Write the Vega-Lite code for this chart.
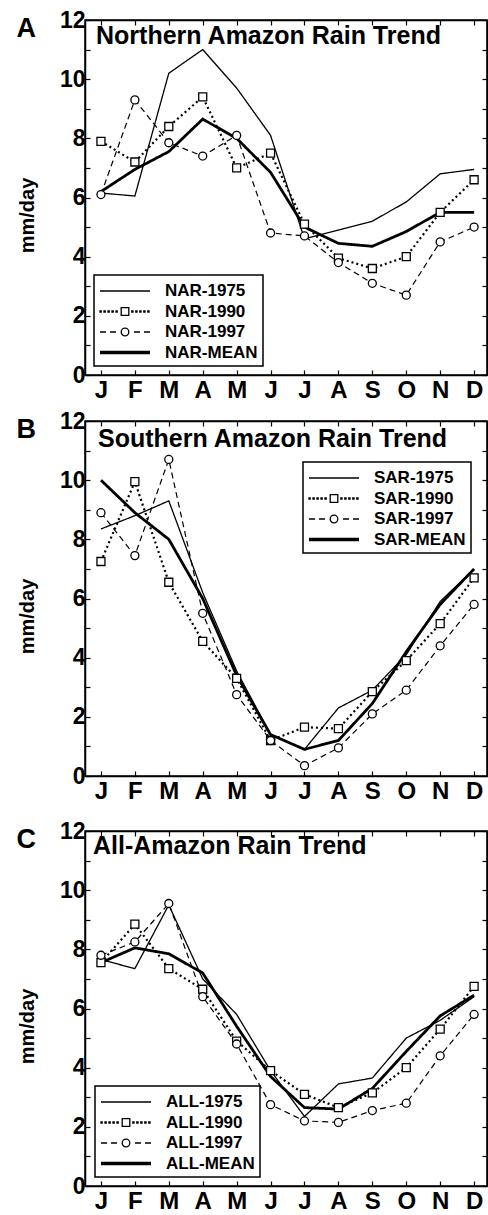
{
"$schema": "https://vega.github.io/schema/vega-lite/v6.json",
"padding": {"left": 15, "top": 8, "right": 0, "bottom": 0},
"background": "white",
"config": {
 "font": "Liberation Sans",
 "view": {"stroke": "black", "strokeWidth": 1.5},
 "axis": {"domainColor": "black", "domainWidth": 1.5, "tickColor": "black", "tickWidth": 1.2, "tickSize": -5, "labelFont": "Liberation Sans", "labelFontWeight": "bold", "labelFontSize": 23, "labelColor": "black", "titleFont": "Liberation Sans", "titleFontWeight": "bold", "titleColor": "black", "grid": false},
 "legend": {"labelFont": "Liberation Sans", "labelFontWeight": "bold", "labelFontSize": 17, "labelColor": "black", "strokeColor": "black", "strokeWidth": 1.5, "fillColor": "white", "padding": 5, "symbolSize": 400, "symbolStrokeWidth": 1.3, "symbolOpacity": 1, "rowPadding": 1.5, "labelOffset": 44, "cornerRadius": 0},
 "title": {"font": "Liberation Sans", "fontWeight": "bold", "color": "black"}
},
"datasets": {"rain": [
{"region":"NAR","series":"NAR-1975","month":1,"value":6.15},{"region":"NAR","series":"NAR-1975","month":2,"value":6.05},{"region":"NAR","series":"NAR-1975","month":3,"value":10.2},{"region":"NAR","series":"NAR-1975","month":4,"value":11.0},{"region":"NAR","series":"NAR-1975","month":5,"value":9.7},{"region":"NAR","series":"NAR-1975","month":6,"value":8.1},{"region":"NAR","series":"NAR-1975","month":7,"value":4.6},{"region":"NAR","series":"NAR-1975","month":8,"value":4.9},{"region":"NAR","series":"NAR-1975","month":9,"value":5.2},{"region":"NAR","series":"NAR-1975","month":10,"value":5.85},{"region":"NAR","series":"NAR-1975","month":11,"value":6.8},{"region":"NAR","series":"NAR-1975","month":12,"value":6.95},
{"region":"NAR","series":"NAR-1990","month":1,"value":7.9},{"region":"NAR","series":"NAR-1990","month":2,"value":7.2},{"region":"NAR","series":"NAR-1990","month":3,"value":8.4},{"region":"NAR","series":"NAR-1990","month":4,"value":9.4},{"region":"NAR","series":"NAR-1990","month":5,"value":7.0},{"region":"NAR","series":"NAR-1990","month":6,"value":7.5},{"region":"NAR","series":"NAR-1990","month":7,"value":5.1},{"region":"NAR","series":"NAR-1990","month":8,"value":3.95},{"region":"NAR","series":"NAR-1990","month":9,"value":3.6},{"region":"NAR","series":"NAR-1990","month":10,"value":4.0},{"region":"NAR","series":"NAR-1990","month":11,"value":5.5},{"region":"NAR","series":"NAR-1990","month":12,"value":6.6},
{"region":"NAR","series":"NAR-1997","month":1,"value":6.1},{"region":"NAR","series":"NAR-1997","month":2,"value":9.3},{"region":"NAR","series":"NAR-1997","month":3,"value":7.85},{"region":"NAR","series":"NAR-1997","month":4,"value":7.4},{"region":"NAR","series":"NAR-1997","month":5,"value":8.1},{"region":"NAR","series":"NAR-1997","month":6,"value":4.8},{"region":"NAR","series":"NAR-1997","month":7,"value":4.7},{"region":"NAR","series":"NAR-1997","month":8,"value":3.8},{"region":"NAR","series":"NAR-1997","month":9,"value":3.1},{"region":"NAR","series":"NAR-1997","month":10,"value":2.7},{"region":"NAR","series":"NAR-1997","month":11,"value":4.5},{"region":"NAR","series":"NAR-1997","month":12,"value":5.0},
{"region":"NAR","series":"NAR-MEAN","month":1,"value":6.2},{"region":"NAR","series":"NAR-MEAN","month":2,"value":6.95},{"region":"NAR","series":"NAR-MEAN","month":3,"value":7.55},{"region":"NAR","series":"NAR-MEAN","month":4,"value":8.65},{"region":"NAR","series":"NAR-MEAN","month":5,"value":8.0},{"region":"NAR","series":"NAR-MEAN","month":6,"value":6.85},{"region":"NAR","series":"NAR-MEAN","month":7,"value":5.0},{"region":"NAR","series":"NAR-MEAN","month":8,"value":4.45},{"region":"NAR","series":"NAR-MEAN","month":9,"value":4.35},{"region":"NAR","series":"NAR-MEAN","month":10,"value":4.85},{"region":"NAR","series":"NAR-MEAN","month":11,"value":5.5},{"region":"NAR","series":"NAR-MEAN","month":12,"value":5.5},
{"region":"SAR","series":"SAR-1975","month":1,"value":8.35},{"region":"SAR","series":"SAR-1975","month":2,"value":8.8},{"region":"SAR","series":"SAR-1975","month":3,"value":9.3},{"region":"SAR","series":"SAR-1975","month":4,"value":6.2},{"region":"SAR","series":"SAR-1975","month":5,"value":3.55},{"region":"SAR","series":"SAR-1975","month":6,"value":1.4},{"region":"SAR","series":"SAR-1975","month":7,"value":0.9},{"region":"SAR","series":"SAR-1975","month":8,"value":2.3},{"region":"SAR","series":"SAR-1975","month":9,"value":2.9},{"region":"SAR","series":"SAR-1975","month":10,"value":4.1},{"region":"SAR","series":"SAR-1975","month":11,"value":5.9},{"region":"SAR","series":"SAR-1975","month":12,"value":7.0},
{"region":"SAR","series":"SAR-1990","month":1,"value":7.25},{"region":"SAR","series":"SAR-1990","month":2,"value":9.95},{"region":"SAR","series":"SAR-1990","month":3,"value":6.55},{"region":"SAR","series":"SAR-1990","month":4,"value":4.55},{"region":"SAR","series":"SAR-1990","month":5,"value":3.3},{"region":"SAR","series":"SAR-1990","month":6,"value":1.2},{"region":"SAR","series":"SAR-1990","month":7,"value":1.65},{"region":"SAR","series":"SAR-1990","month":8,"value":1.6},{"region":"SAR","series":"SAR-1990","month":9,"value":2.85},{"region":"SAR","series":"SAR-1990","month":10,"value":3.9},{"region":"SAR","series":"SAR-1990","month":11,"value":5.15},{"region":"SAR","series":"SAR-1990","month":12,"value":6.7},
{"region":"SAR","series":"SAR-1997","month":1,"value":8.9},{"region":"SAR","series":"SAR-1997","month":2,"value":7.45},{"region":"SAR","series":"SAR-1997","month":3,"value":10.7},{"region":"SAR","series":"SAR-1997","month":4,"value":5.5},{"region":"SAR","series":"SAR-1997","month":5,"value":2.75},{"region":"SAR","series":"SAR-1997","month":6,"value":1.2},{"region":"SAR","series":"SAR-1997","month":7,"value":0.35},{"region":"SAR","series":"SAR-1997","month":8,"value":0.95},{"region":"SAR","series":"SAR-1997","month":9,"value":2.1},{"region":"SAR","series":"SAR-1997","month":10,"value":2.9},{"region":"SAR","series":"SAR-1997","month":11,"value":4.4},{"region":"SAR","series":"SAR-1997","month":12,"value":5.8},
{"region":"SAR","series":"SAR-MEAN","month":1,"value":10.0},{"region":"SAR","series":"SAR-MEAN","month":2,"value":8.9},{"region":"SAR","series":"SAR-MEAN","month":3,"value":8.0},{"region":"SAR","series":"SAR-MEAN","month":4,"value":6.0},{"region":"SAR","series":"SAR-MEAN","month":5,"value":3.4},{"region":"SAR","series":"SAR-MEAN","month":6,"value":1.4},{"region":"SAR","series":"SAR-MEAN","month":7,"value":0.9},{"region":"SAR","series":"SAR-MEAN","month":8,"value":1.2},{"region":"SAR","series":"SAR-MEAN","month":9,"value":2.45},{"region":"SAR","series":"SAR-MEAN","month":10,"value":4.2},{"region":"SAR","series":"SAR-MEAN","month":11,"value":5.8},{"region":"SAR","series":"SAR-MEAN","month":12,"value":7.0},
{"region":"ALL","series":"ALL-1975","month":1,"value":7.65},{"region":"ALL","series":"ALL-1975","month":2,"value":7.35},{"region":"ALL","series":"ALL-1975","month":3,"value":9.5},{"region":"ALL","series":"ALL-1975","month":4,"value":7.0},{"region":"ALL","series":"ALL-1975","month":5,"value":5.8},{"region":"ALL","series":"ALL-1975","month":6,"value":3.9},{"region":"ALL","series":"ALL-1975","month":7,"value":2.35},{"region":"ALL","series":"ALL-1975","month":8,"value":3.45},{"region":"ALL","series":"ALL-1975","month":9,"value":3.65},{"region":"ALL","series":"ALL-1975","month":10,"value":5.0},{"region":"ALL","series":"ALL-1975","month":11,"value":5.6},{"region":"ALL","series":"ALL-1975","month":12,"value":6.4},
{"region":"ALL","series":"ALL-1990","month":1,"value":7.55},{"region":"ALL","series":"ALL-1990","month":2,"value":8.85},{"region":"ALL","series":"ALL-1990","month":3,"value":7.35},{"region":"ALL","series":"ALL-1990","month":4,"value":6.65},{"region":"ALL","series":"ALL-1990","month":5,"value":4.9},{"region":"ALL","series":"ALL-1990","month":6,"value":3.9},{"region":"ALL","series":"ALL-1990","month":7,"value":3.1},{"region":"ALL","series":"ALL-1990","month":8,"value":2.65},{"region":"ALL","series":"ALL-1990","month":9,"value":3.15},{"region":"ALL","series":"ALL-1990","month":10,"value":4.0},{"region":"ALL","series":"ALL-1990","month":11,"value":5.3},{"region":"ALL","series":"ALL-1990","month":12,"value":6.75},
{"region":"ALL","series":"ALL-1997","month":1,"value":7.8},{"region":"ALL","series":"ALL-1997","month":2,"value":8.25},{"region":"ALL","series":"ALL-1997","month":3,"value":9.55},{"region":"ALL","series":"ALL-1997","month":4,"value":6.4},{"region":"ALL","series":"ALL-1997","month":5,"value":4.8},{"region":"ALL","series":"ALL-1997","month":6,"value":2.75},{"region":"ALL","series":"ALL-1997","month":7,"value":2.2},{"region":"ALL","series":"ALL-1997","month":8,"value":2.15},{"region":"ALL","series":"ALL-1997","month":9,"value":2.55},{"region":"ALL","series":"ALL-1997","month":10,"value":2.8},{"region":"ALL","series":"ALL-1997","month":11,"value":4.4},{"region":"ALL","series":"ALL-1997","month":12,"value":5.8},
{"region":"ALL","series":"ALL-MEAN","month":1,"value":7.55},{"region":"ALL","series":"ALL-MEAN","month":2,"value":8.05},{"region":"ALL","series":"ALL-MEAN","month":3,"value":7.85},{"region":"ALL","series":"ALL-MEAN","month":4,"value":7.2},{"region":"ALL","series":"ALL-MEAN","month":5,"value":5.4},{"region":"ALL","series":"ALL-MEAN","month":6,"value":3.7},{"region":"ALL","series":"ALL-MEAN","month":7,"value":2.65},{"region":"ALL","series":"ALL-MEAN","month":8,"value":2.6},{"region":"ALL","series":"ALL-MEAN","month":9,"value":3.3},{"region":"ALL","series":"ALL-MEAN","month":10,"value":4.55},{"region":"ALL","series":"ALL-MEAN","month":11,"value":5.75},{"region":"ALL","series":"ALL-MEAN","month":12,"value":6.45}
]},
"spacing": 6,
"resolve": {"scale": {"strokeDash": "independent", "strokeWidth": "independent", "shape": "independent"}, "legend": {"shape": "independent"}},
"vconcat": [
{
 "width": 402, "height": 355,
 "data": {"name": "rain"},
 "transform": [{"filter": "datum.region == 'NAR'"}],
 "title": {"text": "Northern Amazon Rain Trend", "anchor": "start", "frame": "group", "offset": -25, "dx": 11, "dy": 35, "baseline": "alphabetic", "fontSize": 25},
 "resolve": {"axis": {"x": "independent", "y": "independent"}},
 "layer": [
  {"mark": {"type": "line", "color": "black"},
   "encoding": {
    "x": {"field": "month", "type": "quantitative", "scale": {"domain": [0.53, 12.38], "nice": false, "zero": false}, "axis": {"orient": "bottom", "values": [1,2,3,4,5,6,7,8,9,10,11,12], "labelExpr": "['J','F','M','A','M','J','J','A','S','O','N','D'][datum.value-1]", "labelPadding": 8, "labelFontSize": 24, "title": null}},
    "y": {"field": "value", "type": "quantitative", "scale": {"domain": [0, 12], "nice": false}, "axis": {"orient": "left", "values": [0,1,2,3,4,5,6,7,8,9,10,11,12], "labelExpr": "datum.value % 2 == 0 ? datum.label : ''", "labelPadding": 5, "title": "mm/day", "titleFontSize": 20, "titlePadding": 22, "titleY": 195}},
    "strokeDash": {"field": "series", "type": "nominal", "scale": {"domain": ["NAR-MEAN","NAR-1975","NAR-1990","NAR-1997"], "range": [[1,0],[1,0],[2,3],[6,4]]}, "legend": null},
    "strokeWidth": {"field": "series", "type": "nominal", "scale": {"type": "ordinal", "domain": ["NAR-1997","NAR-MEAN","NAR-1975","NAR-1990"], "range": [1.2, 2.8, 1.3, 2.2]}, "legend": null}
   }},
  {"transform": [{"filter": "datum.series == 'NAR-1990'"}],
   "mark": {"type": "point", "shape": "square", "filled": true, "fill": "white", "stroke": "black", "strokeWidth": 1.3, "size": 64, "opacity": 1},
   "encoding": {"x": {"field": "month", "type": "quantitative", "axis": null}, "y": {"field": "value", "type": "quantitative", "axis": null}}},
  {"transform": [{"filter": "datum.series == 'NAR-1997'"}],
   "mark": {"type": "point", "shape": "circle", "filled": true, "fill": "white", "stroke": "black", "strokeWidth": 1.3, "size": 64, "opacity": 1},
   "encoding": {"x": {"field": "month", "type": "quantitative", "axis": null}, "y": {"field": "value", "type": "quantitative", "axis": null}}},
  {"transform": [{"filter": "datum.month < 0"}],
   "mark": {"type": "point", "color": "black", "filled": false, "opacity": 1},
   "encoding": {"x": {"field": "month", "type": "quantitative", "axis": null}, "y": {"field": "value", "type": "quantitative", "axis": null},
    "shape": {"field": "series", "type": "nominal", "scale": {"domain": ["NAR-1975","NAR-1990","NAR-1997","NAR-MEAN"], "range": ["M-1,0H4", "M-1,-0.06h0.12v0.12h-0.12ZM-0.6,-0.06h0.12v0.12h-0.12ZM-0.2,-0.06h0.12v0.12h-0.12ZM0.2,-0.06h0.12v0.12h-0.12ZM0.6,-0.06h0.12v0.12h-0.12ZM2.18,-0.06h0.12v0.12h-0.12ZM2.58,-0.06h0.12v0.12h-0.12ZM2.98,-0.06h0.12v0.12h-0.12ZM3.38,-0.06h0.12v0.12h-0.12ZM3.78,-0.06h0.12v0.12h-0.12ZM1.12,-0.38H1.88V0.38H1.12Z", "M-1,0H-0.4M0,0H0.6M2.4,0H3M3.4,0H4M1.88,0A0.38,0.38,0,1,1,1.12,0A0.38,0.38,0,1,1,1.88,0Z", "M-1,-0.1H4M-1,0H4M-1,0.1H4"]},
     "legend": {"orient": "none", "legendX": 9, "legendY": 255, "title": null, "symbolOpacity": 1}}}},
  {"mark": {"type": "point", "opacity": 0},
   "encoding": {
    "x": {"field": "month", "type": "quantitative", "axis": {"orient": "top", "values": [1,2,3,4,5,6,7,8,9,10,11,12], "labels": false, "title": "A", "titleX": -69, "titleY": 16, "titleAngle": 0, "titleAlign": "left", "titleBaseline": "alphabetic", "titleFontSize": 27}},
    "y": {"field": "value", "type": "quantitative", "axis": {"orient": "right", "values": [0,1,2,3,4,5,6,7,8,9,10,11,12], "labels": false, "title": null}}
   }}
 ]
},
{
 "spacing": 15,
 "resolve": {"scale": {"strokeDash": "independent", "strokeWidth": "independent", "shape": "independent"}, "legend": {"shape": "independent"}},
 "vconcat": [
 {
 "width": 402, "height": 355,
 "data": {"name": "rain"},
 "transform": [{"filter": "datum.region == 'SAR'"}],
 "title": {"text": "Southern Amazon Rain Trend", "anchor": "start", "frame": "group", "offset": -25, "dx": 13, "dy": 37, "baseline": "alphabetic", "fontSize": 25},
 "resolve": {"axis": {"x": "independent", "y": "independent"}},
 "layer": [
  {"mark": {"type": "line", "color": "black"},
   "encoding": {
    "x": {"field": "month", "type": "quantitative", "scale": {"domain": [0.53, 12.38], "nice": false, "zero": false}, "axis": {"orient": "bottom", "values": [1,2,3,4,5,6,7,8,9,10,11,12], "labelExpr": "['J','F','M','A','M','J','J','A','S','O','N','D'][datum.value-1]", "labelPadding": 8, "labelFontSize": 24, "title": null}},
    "y": {"field": "value", "type": "quantitative", "scale": {"domain": [0, 12], "nice": false}, "axis": {"orient": "left", "values": [0,1,2,3,4,5,6,7,8,9,10,11,12], "labelExpr": "datum.value % 2 == 0 ? datum.label : ''", "labelPadding": 5, "title": "mm/day", "titleFontSize": 20, "titlePadding": 22, "titleY": 195}},
    "strokeDash": {"field": "series", "type": "nominal", "scale": {"domain": ["SAR-MEAN","SAR-1975","SAR-1990","SAR-1997"], "range": [[1,0],[1,0],[2,3],[6,4]]}, "legend": null},
    "strokeWidth": {"field": "series", "type": "nominal", "scale": {"type": "ordinal", "domain": ["SAR-1997","SAR-MEAN","SAR-1975","SAR-1990"], "range": [1.2, 2.8, 1.3, 2.2]}, "legend": null}
   }},
  {"transform": [{"filter": "datum.series == 'SAR-1990'"}],
   "mark": {"type": "point", "shape": "square", "filled": true, "fill": "white", "stroke": "black", "strokeWidth": 1.3, "size": 64, "opacity": 1},
   "encoding": {"x": {"field": "month", "type": "quantitative", "axis": null}, "y": {"field": "value", "type": "quantitative", "axis": null}}},
  {"transform": [{"filter": "datum.series == 'SAR-1997'"}],
   "mark": {"type": "point", "shape": "circle", "filled": true, "fill": "white", "stroke": "black", "strokeWidth": 1.3, "size": 64, "opacity": 1},
   "encoding": {"x": {"field": "month", "type": "quantitative", "axis": null}, "y": {"field": "value", "type": "quantitative", "axis": null}}},
  {"transform": [{"filter": "datum.month < 0"}],
   "mark": {"type": "point", "color": "black", "filled": false, "opacity": 1},
   "encoding": {"x": {"field": "month", "type": "quantitative", "axis": null}, "y": {"field": "value", "type": "quantitative", "axis": null},
    "shape": {"field": "series", "type": "nominal", "scale": {"domain": ["SAR-1975","SAR-1990","SAR-1997","SAR-MEAN"], "range": ["M-1,0H4", "M-1,-0.06h0.12v0.12h-0.12ZM-0.6,-0.06h0.12v0.12h-0.12ZM-0.2,-0.06h0.12v0.12h-0.12ZM0.2,-0.06h0.12v0.12h-0.12ZM0.6,-0.06h0.12v0.12h-0.12ZM2.18,-0.06h0.12v0.12h-0.12ZM2.58,-0.06h0.12v0.12h-0.12ZM2.98,-0.06h0.12v0.12h-0.12ZM3.38,-0.06h0.12v0.12h-0.12ZM3.78,-0.06h0.12v0.12h-0.12ZM1.12,-0.38H1.88V0.38H1.12Z", "M-1,0H-0.4M0,0H0.6M2.4,0H3M3.4,0H4M1.88,0A0.38,0.38,0,1,1,1.12,0A0.38,0.38,0,1,1,1.88,0Z", "M-1,-0.1H4M-1,0H4M-1,0.1H4"]},
     "legend": {"orient": "none", "legendX": 218, "legendY": 41, "title": null, "symbolOpacity": 1}}}},
  {"mark": {"type": "point", "opacity": 0},
   "encoding": {
    "x": {"field": "month", "type": "quantitative", "axis": {"orient": "top", "values": [1,2,3,4,5,6,7,8,9,10,11,12], "labels": false, "title": "B", "titleX": -69, "titleY": 16, "titleAngle": 0, "titleAlign": "left", "titleBaseline": "alphabetic", "titleFontSize": 27}},
    "y": {"field": "value", "type": "quantitative", "axis": {"orient": "right", "values": [0,1,2,3,4,5,6,7,8,9,10,11,12], "labels": false, "title": null}}
   }}
 ]
 },
 {
 "width": 402, "height": 355,
 "data": {"name": "rain"},
 "transform": [{"filter": "datum.region == 'ALL'"}],
 "title": {"text": "All-Amazon Rain Trend", "anchor": "start", "frame": "group", "offset": -25, "dx": 8, "dy": 34, "baseline": "alphabetic", "fontSize": 25},
 "resolve": {"axis": {"x": "independent", "y": "independent"}},
 "layer": [
  {"mark": {"type": "line", "color": "black"},
   "encoding": {
    "x": {"field": "month", "type": "quantitative", "scale": {"domain": [0.53, 12.38], "nice": false, "zero": false}, "axis": {"orient": "bottom", "values": [1,2,3,4,5,6,7,8,9,10,11,12], "labelExpr": "['J','F','M','A','M','J','J','A','S','O','N','D'][datum.value-1]", "labelPadding": 8, "labelFontSize": 24, "title": null}},
    "y": {"field": "value", "type": "quantitative", "scale": {"domain": [0, 12], "nice": false}, "axis": {"orient": "left", "values": [0,1,2,3,4,5,6,7,8,9,10,11,12], "labelExpr": "datum.value % 2 == 0 ? datum.label : ''", "labelPadding": 5, "title": "mm/day", "titleFontSize": 20, "titlePadding": 22, "titleY": 195}},
    "strokeDash": {"field": "series", "type": "nominal", "scale": {"domain": ["ALL-MEAN","ALL-1975","ALL-1990","ALL-1997"], "range": [[1,0],[1,0],[2,3],[6,4]]}, "legend": null},
    "strokeWidth": {"field": "series", "type": "nominal", "scale": {"type": "ordinal", "domain": ["ALL-1997","ALL-MEAN","ALL-1975","ALL-1990"], "range": [1.2, 2.8, 1.3, 2.2]}, "legend": null}
   }},
  {"transform": [{"filter": "datum.series == 'ALL-1990'"}],
   "mark": {"type": "point", "shape": "square", "filled": true, "fill": "white", "stroke": "black", "strokeWidth": 1.3, "size": 64, "opacity": 1},
   "encoding": {"x": {"field": "month", "type": "quantitative", "axis": null}, "y": {"field": "value", "type": "quantitative", "axis": null}}},
  {"transform": [{"filter": "datum.series == 'ALL-1997'"}],
   "mark": {"type": "point", "shape": "circle", "filled": true, "fill": "white", "stroke": "black", "strokeWidth": 1.3, "size": 64, "opacity": 1},
   "encoding": {"x": {"field": "month", "type": "quantitative", "axis": null}, "y": {"field": "value", "type": "quantitative", "axis": null}}},
  {"transform": [{"filter": "datum.month < 0"}],
   "mark": {"type": "point", "color": "black", "filled": false, "opacity": 1},
   "encoding": {"x": {"field": "month", "type": "quantitative", "axis": null}, "y": {"field": "value", "type": "quantitative", "axis": null},
    "shape": {"field": "series", "type": "nominal", "scale": {"domain": ["ALL-1975","ALL-1990","ALL-1997","ALL-MEAN"], "range": ["M-1,0H4", "M-1,-0.06h0.12v0.12h-0.12ZM-0.6,-0.06h0.12v0.12h-0.12ZM-0.2,-0.06h0.12v0.12h-0.12ZM0.2,-0.06h0.12v0.12h-0.12ZM0.6,-0.06h0.12v0.12h-0.12ZM2.18,-0.06h0.12v0.12h-0.12ZM2.58,-0.06h0.12v0.12h-0.12ZM2.98,-0.06h0.12v0.12h-0.12ZM3.38,-0.06h0.12v0.12h-0.12ZM3.78,-0.06h0.12v0.12h-0.12ZM1.12,-0.38H1.88V0.38H1.12Z", "M-1,0H-0.4M0,0H0.6M2.4,0H3M3.4,0H4M1.88,0A0.38,0.38,0,1,1,1.12,0A0.38,0.38,0,1,1,1.88,0Z", "M-1,-0.1H4M-1,0H4M-1,0.1H4"]},
     "legend": {"orient": "none", "legendX": 10, "legendY": 255, "title": null, "symbolOpacity": 1}}}},
  {"mark": {"type": "point", "opacity": 0},
   "encoding": {
    "x": {"field": "month", "type": "quantitative", "axis": {"orient": "top", "values": [1,2,3,4,5,6,7,8,9,10,11,12], "labels": false, "title": "C", "titleX": -69, "titleY": 16, "titleAngle": 0, "titleAlign": "left", "titleBaseline": "alphabetic", "titleFontSize": 27}},
    "y": {"field": "value", "type": "quantitative", "axis": {"orient": "right", "values": [0,1,2,3,4,5,6,7,8,9,10,11,12], "labels": false, "title": null}}
   }}
 ]
 }
 ]
}
]
}
